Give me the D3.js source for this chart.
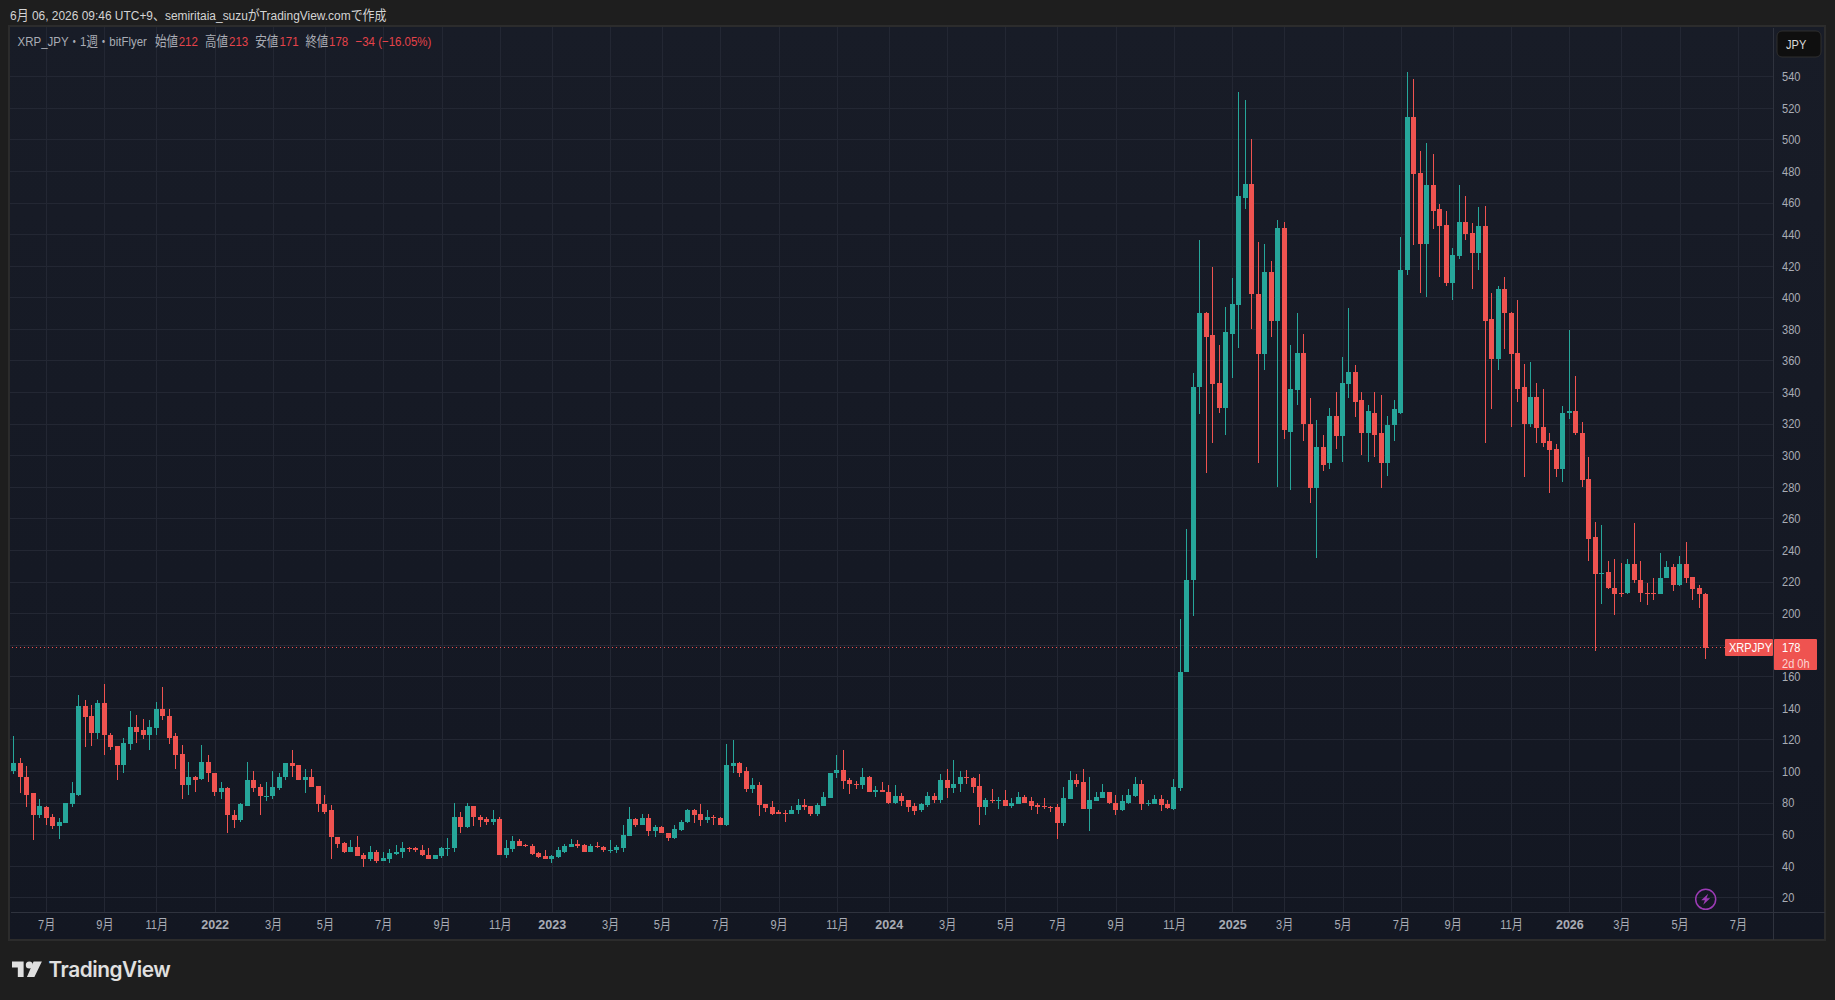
<!DOCTYPE html>
<html>
<head>
<meta charset="utf-8">
<style>
  html, body { margin: 0; padding: 0; background: #1e1e1e; }
  svg { display: block; }
  text { font-family: "Liberation Sans", "Noto Sans CJK JP", sans-serif; font-size: 13.5px; }
  .axis text { fill: #a9acb5; }
  .axis path { display: none; }
  .grid line { stroke: #232733; shape-rendering: crispEdges; }
  .grid path { display: none; }
</style>
</head>
<body>
<svg id="chart" width="1835" height="1000"></svg>
<script src="https://cdnjs.cloudflare.com/ajax/libs/d3/7.8.5/d3.min.js"></script>
<script>
// weekly XRP_JPY candles
const open = [
  100,105,96,86,72,77,71,65,67,79,
  85,141,135,124,143,123,116,104,117,128,
  126,123,127,139,135,122,111,91,96,95,
  106,99,87,89,72,69,78,94,90,84,
  84,89,96,105,104,94,96,90.5,79,75,
  58,54.5,49,52,47,44,49,43,44,47.5,
  49,51,51,50,47,44,46,50.5,51,71,
  64.5,78,71,69.5,68,69.5,47,50.5,55.5,53,
  52.5,48,46,44,45.5,49,52,54,53,49,
  52.5,52,50,50,51,59,69.5,66,70,62,
  64.5,61,57.5,62.5,68,75,73,69,71,70,
  66,103,105,100,88.5,91,79,77,74,73.5,
  73,75,78.5,78,73,78,83,99,100.5,94,
  92,91,96,87,88,87,80,84,81.5,78,
  75,78.5,84,81.5,94,89,92,96,95.5,90.5,
  77,81.5,81,81.5,78,79,83.5,81,78.5,78,
  77,77,67,82,94,93,76,81,83,86.5,
  80,75,80,84,92,79,79,82,79,76,
  89,163,221,343,390,376,346,330,377,395,
  463,472,402,364,416,385,444,315,341,365,
  320,279,305,295,325,312,345,353,335,314,
  327,314,295,319,327,417,514,479,434,471,
  456,446,409,426,448,441,428,445,386,361,
  405,390,365,343,320,337,318,309,304,291,
  327,328,314,285,248,225,226,216,213,212.5,
  231,221,213,212.5,212,222.5,229.5,217.5,231,223,
  216,212
];
const high = [
  122,108,103,86,82,78,73,70,80,93,
  148,145,142,145,155,124,116,121,138,135.5,
  133,132,144,153,139,124,116.5,106,97,116.5,
  110,99,93,90,75,80,106,100,92,93,
  100,99,105,113,104,101,101,90.5,85,78.5,
  58,55,56,59,48,52.5,50,49,50.5,53,
  55,52,52,53,51,47,52,57.5,80,74,
  80,78,72,71,75,71,56,59,57,54,
  54,49,50,47,52,54,57,56,54,54,
  55,52.5,56,53,66,77,70,73,73,66,
  65,61,66,69,76,76,79,75,72,71,
  117,119.5,106,102.5,95.5,93,79,81,75,75,
  78,82,82,78,79.5,87,99,110,113,95.5,
  93.5,102,97,90.5,93,91,91,86,81.5,79.5,
  80,87,86,98,101,107,100,100.5,96,98,
  83,88.5,83.5,88,83,87,85,83.5,80,83,
  78,79,90,100,98,101,96.5,86.5,92,87,
  85,85,88.5,96.5,94,81.5,85,85,81.5,95,
  196,253,352,436,391,419,370,394,412,530,
  525,500,435,434,423,449,448,370,390,377,
  336,322,313,330,340,362,393,357,340,332,
  340,338,325,335,438,543,538,493,498,491,
  459,455,431,471,464,447,457,458,403,407,
  413,391,398,358,359,346,342,314,307,331,
  379,350,321,299,258,256,233,234,232,234,
  257,233,219,222,238,233,231,236,245,223,
  218,213
];
const low = [
  98,86,77,56,70,66,63,57,67,77,
  84,115,116,120,110,113,94,99,113,118,
  120,113,123,132,117,101,82,85,87,94,
  93,84,82,61,64,68,78,87,72,81,
  82,88,94,96,94,86,90,74,73,44,
  51,48,49,46,39,43,42,43,42,47,
  45,49,49,46,44,44,45,46,49,61,
  64,65,64.5,66,66,47,45,49,52.5,52,
  47,45,44,42,45,48,52,51,49,49,
  51,49,48,48,49,59,64.5,66,59,58,
  61,55.5,57,62,67,67,65,67,66,66,
  65,99,96,87,86,71.5,74,72,73,68,
  73,73,75,71.5,71.5,78,83,95.5,88.5,85.5,
  88.5,88.5,86.5,83.5,86.5,79,79,78,74,72,
  74,77,79.5,80,83,86,86.5,92,86,66,
  72,80,76,78,76.5,79,80,75,73,76,
  74,57,65,82,90,76,62,81,83,79,
  72,74.5,79,83.5,75,78,79,74.5,76,75.5,
  87.5,163,198,326,289,308,327,313,349,368,
  456,380,295,354,375,280,310,278,332,309,
  270,235,290,291,304,296,336,324,300,296,
  299,279,287,309,326,414,433,403,400,443,
  413,407,398,424,436,405,417,308,329,354,
  367,318,334,286,318,308,305,276,286,283,
  323,313,280,233,176,206,215,199,210,212,
  219,207,205,208,212,222.5,214,217,219,208,
  203,171
];
const close = [
  105,96,85,72,78,70,65,68,80,86,
  141,134,124,143,123,115,104,118,128,125,
  123,128,139,135,121,110,91,96,94,106,
  99,87,89,72,69,79,94,89,84,84,
  90,96,105,103,94,96,90,79,74,58,
  54,49,52,46,44,49,43,45,48,49,
  51,50.5,50,47,44,47,51,51,71,64.5,
  78,71,69,68,69.5,47,51,55.5,52.5,52.5,
  47.5,45.5,44,46,50,52.5,54,52.5,49,52.5,
  52,50,50,52,59.5,69.5,66,70,62,64.5,
  61,57.5,63,68,75,72,69,71,70,66,
  104,105,99,88.5,91,78.5,76.5,73,73,73,
  75,78.5,77,73,78.5,83.5,99,100.5,93.5,92,
  91,96,86.5,88,87,79.5,84,81,77,74.5,
  79,84,81.5,94,89,92,96,95.5,90,77,
  81.5,81,81.5,78,80,83.5,80,78,77,77,
  76.5,67,83,94,92,76,81.5,83.5,86.5,79.5,
  75,81,85,92,79,80,82,78.5,76.5,90,
  163,221,343,390,375,345,330,378,396,464,
  472,402,364,416,385,444,316,342,365,320,
  279,305,294,325,312,346,353,334,314,328,
  313,295,319,329,417,514,478,434,471,455,
  445,409,427,448,440,428,445,385,361,405,
  390,364,342,320,337,317,308,303,291,327,
  328,314,284,247,225,225.5,216,212,212.5,231,
  221,212.5,212,212,222.5,229,217.5,231,222.5,215,
  212,178
];

const priceTicks = d3.range(20, 541, 20);
const tickDates = [
  '2021-07-05','2021-09-06','2021-11-01','2022-01-03','2022-03-07','2022-05-02',
  '2022-07-04','2022-09-05','2022-11-07','2023-01-02','2023-03-06','2023-05-01',
  '2023-07-03','2023-09-04','2023-11-06','2024-01-01','2024-03-04','2024-05-06',
  '2024-07-01','2024-09-02','2024-11-04','2025-01-06','2025-03-03','2025-05-05',
  '2025-07-07','2025-09-01','2025-11-03','2026-01-05','2026-03-02','2026-05-04',
  '2026-07-06'
].map(d => new Date(d + 'T00:00:00Z'));
const tickLabels = [
  '7月','9月','11月','2022','3月','5月',
  '7月','9月','11月','2023','3月','5月',
  '7月','9月','11月','2024','3月','5月',
  '7月','9月','11月','2025','3月','5月',
  '7月','9月','11月','2026','3月','5月',
  '7月'
];

const upColor = '#26a69a';
const downColor = '#ef5350';
const legendRed = '#e5434a';
const legendGrey = '#a9acb5';
const squeeze = 0.82; // the screenshot font runs narrower than anything installed

// panel geometry
const panelLeft = 10, panelTop = 27, panelRight = 1824, panelBottom = 939;
const plotRight = 1773, plotBottom = 912;

const svg = d3.select('#chart');

// plain text label, squeezed sideways
function addLabel(px, py, str, color, k = squeeze) {
  return svg.append('text')
    .attr('transform', `translate(${px},${py}) scale(${k},1)`)
    .attr('fill', color)
    .text(str);
}

const weeks = open.map((_, i) => new Date(Date.UTC(2021, 4, 31 + i * 7)));

const x = d3.scaleUtc()
  .domain([weeks[0], weeks[weeks.length - 1]])
  .range([13.7, 1705.5]);

const y = d3.scaleLinear()
  .domain([20, 540])
  .range([897.3, 76.3]);

// panel background
const defs = svg.append('defs');
const grad = defs.append('linearGradient')
  .attr('id', 'panelBg')
  .attr('x1', 0).attr('y1', 0).attr('x2', 0).attr('y2', 1);
grad.append('stop').attr('offset', '0%').attr('stop-color', '#181c27');
grad.append('stop').attr('offset', '100%').attr('stop-color', '#131722');

svg.append('rect')
  .attr('x', panelLeft - 2).attr('y', panelTop - 2)
  .attr('width', panelRight - panelLeft + 4).attr('height', panelBottom - panelTop + 4)
  .attr('fill', '#2c2c2c');
svg.append('rect')
  .attr('x', panelLeft).attr('y', panelTop)
  .attr('width', panelRight - panelLeft).attr('height', panelBottom - panelTop)
  .attr('fill', 'url(#panelBg)');

// grid, drawn with the same axes as the labels
svg.append('g')
  .attr('class', 'grid')
  .attr('transform', `translate(0,${plotBottom})`)
  .call(d3.axisBottom(x).tickValues(tickDates).tickSize(-(plotBottom - panelTop)).tickFormat(''));
svg.append('g')
  .attr('class', 'grid')
  .attr('transform', `translate(${plotRight},0)`)
  .call(d3.axisRight(y).tickValues(priceTicks).tickSize(-(plotRight - panelLeft)).tickFormat(''));

// axis borders
svg.append('g')
  .selectAll('line')
  .data([[plotRight, panelTop, plotRight, panelBottom], [panelLeft, plotBottom, panelRight, plotBottom]])
  .join('line')
  .attr('x1', d => d[0] + 0.5).attr('y1', d => d[1] + 0.5)
  .attr('x2', d => d[2] + 0.5).attr('y2', d => d[3] + 0.5)
  .attr('stroke', '#2f333e')
  .attr('shape-rendering', 'crispEdges');

// last price line
const lastClose = close[close.length - 1];
const lastY = Math.floor(y(lastClose)) + 0.5;
svg.append('line')
  .attr('x1', panelLeft + 2).attr('x2', plotRight - 48)
  .attr('y1', lastY).attr('y2', lastY)
  .attr('stroke', downColor)
  .attr('stroke-dasharray', '1 3');

// candles
const candle = svg.append('g')
  .selectAll('g')
  .data(weeks)
  .join('g')
  .attr('fill', (d, i) => (close[i] >= open[i] ? upColor : downColor))
  .attr('shape-rendering', 'crispEdges');

candle.append('rect')
  .attr('x', d => Math.floor(x(d)))
  .attr('width', 1)
  .attr('y', (d, i) => Math.round(y(high[i])))
  .attr('height', (d, i) => Math.max(1, Math.round(y(low[i])) - Math.round(y(high[i]))));

candle.append('rect')
  .attr('x', d => Math.floor(x(d)) - 2)
  .attr('width', 5)
  .attr('y', (d, i) => Math.round(y(Math.max(open[i], close[i]))))
  .attr('height', (d, i) =>
    Math.max(1, Math.round(y(Math.min(open[i], close[i]))) - Math.round(y(Math.max(open[i], close[i])))));

// axes
const priceAxis = svg.append('g')
  .attr('class', 'axis')
  .attr('transform', `translate(${plotRight},0)`)
  .call(d3.axisRight(y)
    .tickValues(priceTicks.filter(v => v !== 180)) // hidden behind the price tag
    .tickSize(0)
    .tickPadding(11)
    .tickFormat(d3.format('d')));
priceAxis.selectAll('.tick line').remove();
priceAxis.selectAll('text').attr('transform', `scale(${squeeze},1)`);

const timeAxis = svg.append('g')
  .attr('class', 'axis')
  .attr('transform', `translate(0,${plotBottom})`)
  .call(d3.axisBottom(x)
    .tickValues(tickDates)
    .tickSize(0)
    .tickPadding(7)
    .tickFormat((d, i) => tickLabels[i]));
timeAxis.selectAll('.tick line').remove();
timeAxis.selectAll('text')
  .attr('transform', (d, i) => `scale(${/^\d{4}$/.test(tickLabels[i]) ? 0.93 : squeeze},1)`)
  .attr('font-weight', (d, i) => (/^\d{4}$/.test(tickLabels[i]) ? 'bold' : null));

// price tags
const tagTop = lastY - 8.5;
svg.append('rect')
  .attr('x', 1725).attr('y', tagTop)
  .attr('width', 48).attr('height', 17)
  .attr('rx', 1)
  .attr('fill', downColor);
svg.append('rect')
  .attr('x', 1774).attr('y', tagTop)
  .attr('width', 43).attr('height', 31)
  .attr('rx', 1)
  .attr('fill', downColor);
addLabel(1729, lastY + 4.5, 'XRPJPY', '#fff');
addLabel(1782, lastY + 4.5, lastClose, '#fff');
addLabel(1782, lastY + 20, '2d 0h', '#fbd5d4');

// currency button
svg.append('rect')
  .attr('x', 1777).attr('y', 31)
  .attr('width', 44).attr('height', 26)
  .attr('rx', 5)
  .attr('fill', '#0f0f0f')
  .attr('stroke', '#2e2e2e');
addLabel(1786, 49, 'JPY', '#d9d9d9');

// header line
addLabel(10, 19.5, '6月 06, 2026 09:46 UTC+9、semiritaia_suzuがTradingView.comで作成', '#d4d4d4', 0.885);

// legend line, one piece per colour
const legendParts = [
  [17.6, 'XRP_JPY・1週・bitFlyer', legendGrey],
  [155, '始値', legendGrey], [178.7, '212', legendRed],
  [205, '高値', legendGrey], [229, '213', legendRed],
  [255.3, '安値', legendGrey], [279.4, '171', legendRed],
  [305.4, '終値', legendGrey], [329, '178', legendRed],
  [355.5, '−34 (−16.05%)', legendRed]
];
legendParts.forEach(d => addLabel(d[0], 46, d[1], d[2], 0.85));

// lightning badge
const badge = svg.append('g').attr('transform', 'translate(1705.7,899.3)');
badge.append('circle')
  .attr('r', 10)
  .attr('fill', 'none')
  .attr('stroke', '#9c3bb5')
  .attr('stroke-width', 1.5);
badge.append('path')
  .attr('d', 'M2.5 -5.5 L-4.5 1 L-0.8 1 L-2.5 5.5 L4.5 -1 L0.8 -1 Z')
  .attr('fill', '#9c3bb5');

// TradingView mark
const mark = svg.append('g').attr('transform', 'translate(12,961.5)');
mark.append('path')
  .attr('transform', 'scale(0.83,0.74)')
  .attr('d', 'M14 0H0v8h7v13h7V0Zm22 0H26l-8 21h9L36 0Z')
  .attr('fill', '#e0e0e0');
mark.append('circle')
  .attr('cx', 17.3).attr('cy', 3.5).attr('r', 3.5)
  .attr('fill', '#e0e0e0');
svg.append('text')
  .attr('x', 48.5).attr('y', 977)
  .attr('fill', '#e0e0e0')
  .style('font-family', 'Inter, Roboto, sans-serif')
  .style('font-weight', 600)
  .style('font-size', '20.8px')
  .style('letter-spacing', '-0.45px')
  .text('TradingView');
</script>
</body>
</html>
